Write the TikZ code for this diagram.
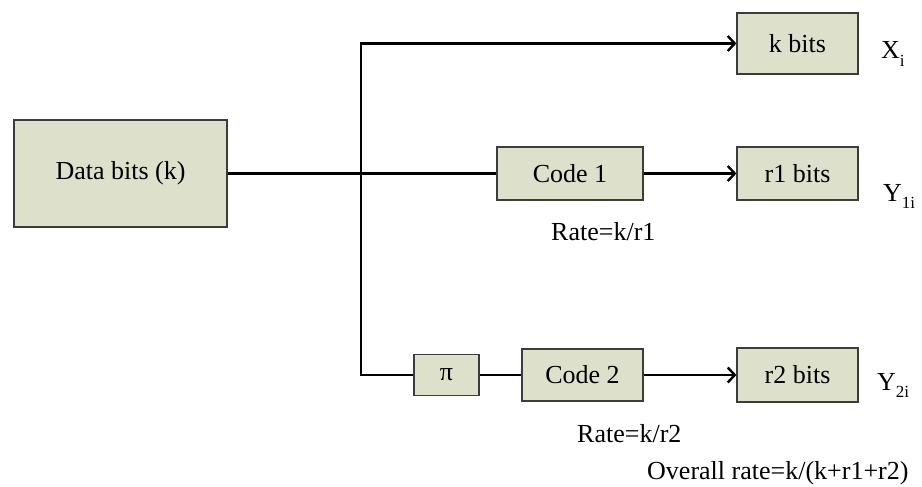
\documentclass[tikz,border=0pt]{standalone}
\usepackage{fontspec}
\setmainfont{Liberation Serif}
\usetikzlibrary{arrows.meta}
\definecolor{boxfill}{RGB}{221,225,204}
\definecolor{boxline}{RGB}{60,60,60}
\tikzset{
  blk/.style={draw=boxline, line width=1.2pt, fill=boxfill, inner sep=0pt, font=\fontsize{26}{30}\selectfont},
  wire/.style={line width=2.6pt, draw=black},
  arr/.style={wire, -{Straight Barb[length=7pt,width=15pt,line width=2.4pt]}},
  lbl/.style={inner sep=0pt, anchor=base west, font=\fontsize{26}{30}\selectfont}
}
\newcommand{\mysub}[1]{\raisebox{-0.28em}{\fontsize{17}{17}\selectfont #1}}
\begin{document}
\begin{tikzpicture}[x=1pt,y=-1pt]
\useasboundingbox (0,0) rectangle (922,487);
% boxes
\node[blk, minimum width=213pt, minimum height=107pt] (data) at (120.5,173.5) {Data bits (k)};
\node[blk, minimum width=121pt, minimum height=61pt] (kb) at (797.5,43.5) {k bits};
\node[blk, minimum width=146pt, minimum height=53pt] (c1) at (570,173.5) {Code 1};
\node[blk, minimum width=121pt, minimum height=53pt] (r1) at (797.5,173.5) {r1 bits};
\node[blk, minimum width=65pt, minimum height=41pt] (pi) at (446.5,375) {π};
\node[blk, minimum width=121pt, minimum height=52pt] (c2) at (582.5,375) {Code 2};
\node[blk, minimum width=121pt, minimum height=54pt] (r2) at (797.5,375) {r2 bits};
% junction coordinates
\coordinate (jm) at (361,173.5);
\coordinate (jt) at (361,43.5);
\coordinate (jb) at (361,375);
% wires
\draw[wire] (data.east) -- (jm) -- (c1.west);
\draw[wire, line cap=rect] (jt) -- (jb);
\draw[arr] (jt) -- (kb.west);
\draw[arr] (c1.east) -- (r1.west);
\draw[wire] (jb) -- (pi.west);
\draw[wire] (pi.east) -- (c2.west);
\draw[arr] (c2.east) -- (r2.west);
% labels
\node[lbl] (xi) at (881,59) {X\mysub{i}};
\node[lbl] (y1) at (883,201) {Y\mysub{1i}};
\node[lbl] (y2) at (877,390) {Y\mysub{2i}};
\node[lbl] (rate1) at (551,240) {Rate=k/r1};
\node[lbl] (rate2) at (577,442) {Rate=k/r2};
\node[lbl] (over) at (647,479) {Overall rate=k/(k+r1+r2)};
\end{tikzpicture}
\end{document}
